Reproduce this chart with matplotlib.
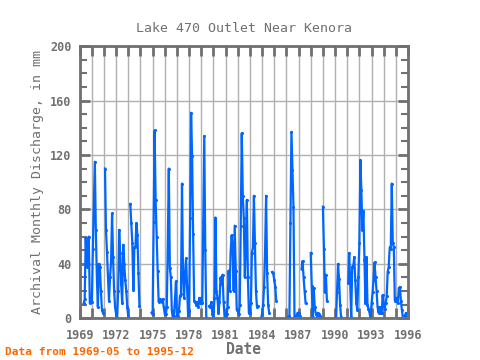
import numpy as np
import pandas as pd
import matplotlib
matplotlib.use("Agg")
import matplotlib.pyplot as plt
import matplotlib.dates as mdates
from matplotlib.ticker import MultipleLocator, FixedLocator

nan = np.nan

# monthly discharge (mm), Jan..Dec per year
years = list(range(1969, 1996))
monthly = {
    1969: [nan, nan, nan, nan, 11, 14, 59, 38, 50, 60, 11, 12],
    1970: [12, 51, 80, 115, 65, 30, 8, 40, 38, 20, 6, 4],
    1971: [nan, 110, 65, 49, 30, 13, 30, 41, 77, 45, 20, 8],
    1972: [3, 0, 20, 65, 48, 25, 11, 54, 40, 28, 20, 8],
    1973: [1, nan, 84, 70, 55, 21, 52, 52, 70, 61, 33, 9],
    1974: [nan, nan, nan, nan, nan, nan, nan, nan, nan, nan, nan, 4],
    1975: [3, 71, 138, 87, 60, 35, 12, 14, 13, 12, 14, 8],
    1976: [3, 3, 8, 55, 110, 37, 30, 5, 0, 2, 13, 27],
    1977: [1, 2, 5, 16, 18, 99, 33, 15, 33, 44, 23, 2],
    1978: [5, 74, 151, 119, 62, 13, 12, 10, 12, 8, 15, 11],
    1979: [15, 11, 71, 134, 50, 0, 0, nan, 9, 8, 12, 3],
    1980: [0, 15, 74, 20, 15, 4, 12, 30, 25, 32, 12, 1],
    1981: [1, 3, 8, 35, 20, 49, 61, 52, 20, 68, 35, 6],
    1982: [6, 3, 10, 68, 136, 90, 74, 30, 57, 87, 30, 4],
    1983: [4, 11, 48, 52, 90, 55, 20, 8, 9, nan, nan, 0],
    1984: [3, 10, 23, 50, 90, 33, 10, 4, nan, nan, 34, 33],
    1985: [28, 23, 13, nan, nan, nan, nan, nan, nan, nan, nan, nan],
    1986: [nan, 0, 1, 2, 70, 137, 109, 82, 0, 1, 2, 4],
    1987: [4, 2, nan, 36, 42, 30, 20, 11, nan, nan, nan, nan],
    1988: [48, 24, 1, 22, 8, 3, 2, 4, 3, 2, 0, nan],
    1989: [82, 51, 19, 32, 13, nan, nan, nan, nan, nan, nan, nan],
    1990: [nan, 0, 19, 40, 29, 10, 1, nan, nan, nan, nan, nan],
    1991: [nan, 26, 48, 26, 1, 38, 38, 45, 28, 11, 6, 30],
    1992: [55, 116, 94, 65, 79, 43, 11, 45, 10, 7, 4, 0],
    1993: [11, 19, 28, 41, 30, 20, 8, 4, 8, 4, 4, 17],
    1994: [10, 7, 11, 16, 34, 38, 52, 51, 99, 55, 52, 13],
    1995: [13, 15, 11, 22, 23, 13, 6, 0, nan, 2, 4, 3],
}
tick_years = [1969, 1972, 1975, 1978, 1981, 1984, 1987, 1990, 1993, 1996]

values = np.concatenate([monthly[y] for y in years])
dates = pd.date_range("1969-01-01", periods=len(values), freq="MS")
series = pd.Series(values, index=dates)
series = series.loc["1969-05":"1995-12"]

gray = "#707070"
plt.rcParams["font.family"] = ["DejaVu Sans Mono", "DejaVu Sans"]

fig = plt.figure(figsize=(4.8, 3.6), dpi=100)
ax = fig.add_axes([0.166, 0.116, 0.684, 0.756])

ax.plot(series.index, series.values, color="#0066ff", lw=1.6,
        marker="o", ms=2.2, mew=0)

ax.set_xlim(pd.Timestamp("1969-01-01"), pd.Timestamp("1996-01-01"))
ax.set_ylim(0, 200)

major = [mdates.date2num(pd.Timestamp(f"{y}-01-01")) for y in tick_years]
minor = [mdates.date2num(pd.Timestamp(f"{y}-01-01")) for y in range(1969, 1997)]
ax.xaxis.set_major_locator(FixedLocator(major))
ax.xaxis.set_minor_locator(FixedLocator(minor))
ax.xaxis.set_major_formatter(mdates.DateFormatter("%Y"))
ax.yaxis.set_major_locator(MultipleLocator(40))
ax.yaxis.set_minor_locator(MultipleLocator(10))

ax.grid(True, which="major", axis="y", color="#b0b0b0", lw=1)
ax.grid(True, which="both", axis="x", color="#b0b0b0", lw=1)
ax.set_axisbelow(True)

for s in ax.spines.values():
    s.set_color(gray)
    s.set_linewidth(2)

ax.tick_params(which="both", direction="in", top=True, right=True,
               colors=gray, labelcolor=gray, labelsize=8.5)
ax.tick_params(which="major", length=7, width=2)
ax.tick_params(which="minor", length=5, width=1.5)
ax.tick_params(axis="x", which="minor", length=7, width=2)
ax.tick_params(axis="x", which="major", pad=8)
ax.tick_params(axis="y", which="major", pad=6)
for lab in ax.get_xticklabels() + ax.get_yticklabels():
    lab.set_fontweight("bold")

ax.set_title("Lake 470 Outlet Near Kenora", color=gray, fontsize=9.5, pad=10)
ax.set_ylabel("Archival Monthly Discharge, in mm", color=gray, fontsize=9.5)
ax.set_xlabel("Date", color=gray, fontsize=10.5, fontweight="bold", labelpad=0)
fig.text(0.01, 0.015, "Data from 1969-05 to 1995-12", color="#ff6600",
         fontsize=8, fontweight="bold")

fig.savefig("out.png", dpi=100)
